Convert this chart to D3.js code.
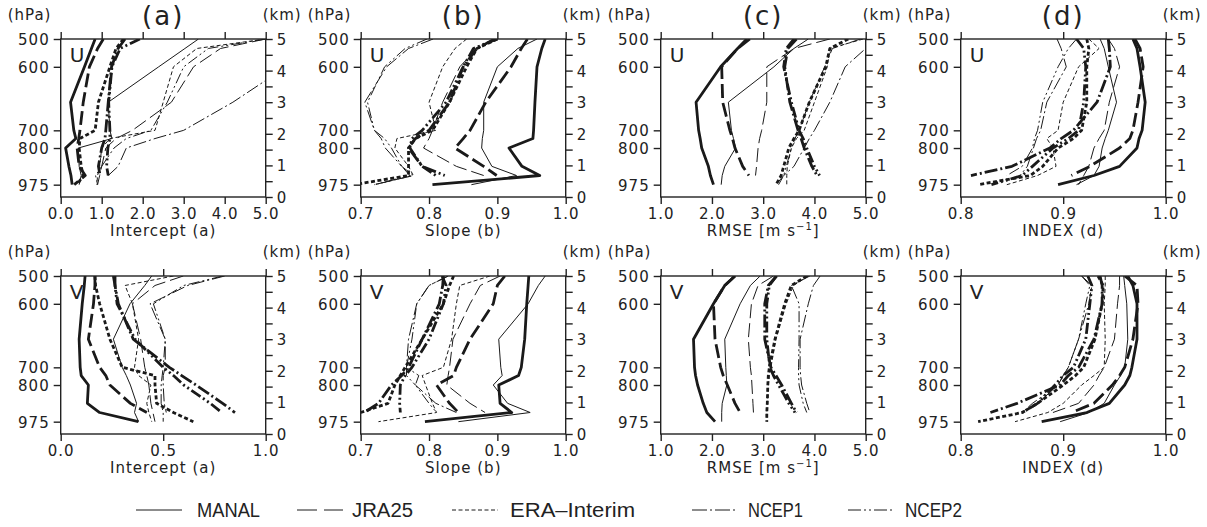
<!DOCTYPE html>
<html>
<head>
<meta charset="utf-8">
<script src="https://cdn.jsdelivr.net/npm/d3@7"></script>
<style>
  body { margin: 0; background: #fff; }
  svg { display: block; }
  .lab { font-family: "DejaVu Sans", sans-serif; font-size: 15px; letter-spacing: 1px; fill: #222; }
  .tick text { font-family: "DejaVu Sans", sans-serif; font-size: 15px; letter-spacing: 1px; fill: #222; }
  .tick line, .domain { stroke: #222; stroke-width: 1.4; }
  .legend text { font-family: "Liberation Sans", sans-serif; font-size: 20px; fill: #222; }
</style>
</head>
<body>
<svg id="chart" width="1207" height="527"></svg>
<script>
"use strict";

// heights (km) of the levels used by every profile, top to bottom
const levelKm = [5.0, 4.7, 4.12, 3.0, 2.11, 1.85, 1.55, 0.97, 0.68, 0.39];
const hpaLabels = [500, 600, 700, 800, 975];
const hpaKm = [5.0, 4.12, 2.11, 1.55, 0.39];
const kmTicks = [0, 0.5, 1, 1.5, 2, 2.5, 3, 3.5, 4, 4.5, 5];

const datasets = ["MANAL", "JRA25", "ERA\u2013Interim", "NCEP1", "NCEP2"];

// each panel: MANAL thick, MANAL thin, JRA25 thick, JRA25 thin, ERA thick, ERA thin,
// NCEP1 thick, NCEP1 thin, NCEP2 thick, NCEP2 thin
const uIntercept = [
  [0.84, 0.75, 0.58, 0.24, 0.32, 0.37, 0.12, 0.20, 0.25, 0.28],
  [3.36, 3.03, 2.39, 1.16, 1.20, 1.25, 0.43, 0.45, 0.50, 0.45],
  [1.04, 0.90, 0.70, 0.55, 0.47, 0.44, 0.40, 0.45, 0.60, 0.33],
  [5.00, 3.90, 3.24, 2.70, 1.75, 1.35, 1.10, 1.00, 0.95, 0.90],
  [1.53, 1.35, 1.20, 0.92, 0.84, 0.47, 0.45, 0.50, 0.55, 0.40],
  [5.00, 3.32, 2.75, 2.50, 2.30, 1.20, 1.00, 0.95, 0.90, 0.88],
  [1.57, 1.40, 1.24, 1.16, 1.10, 1.08, 1.00, 0.92, 0.96, null],
  [6.50, 6.00, 5.50, 4.20, 3.00, 2.30, 1.60, 1.40, 1.16, null],
  [1.93, 1.45, 1.25, 1.17, 1.20, 1.20, 1.15, 1.12, 1.16, null],
  [5.00, 3.60, 3.00, 2.60, 2.20, 1.60, 1.30, 1.00, 0.85, 0.90]
];
const uSlope = [
  [0.970, 0.965, 0.958, 0.955, 0.953, 0.952, 0.917, 0.936, 0.962, 0.805],
  [0.958, 0.930, 0.900, 0.880, 0.880, 0.878, 0.877, 0.892, 0.928, 0.862],
  [0.944, 0.935, 0.920, 0.883, 0.860, 0.850, 0.838, 0.880, 0.899, null],
  [0.900, 0.870, 0.845, 0.820, 0.805, 0.800, 0.792, 0.840, 0.880, null],
  [0.900, 0.870, 0.855, 0.830, 0.805, 0.780, 0.770, 0.770, 0.770, 0.690],
  [0.855, 0.838, 0.820, 0.800, 0.810, 0.753, 0.750, 0.770, 0.777, 0.720],
  [0.896, 0.870, 0.850, 0.830, 0.800, 0.780, 0.770, 0.790, 0.823, null],
  [0.806, 0.770, 0.738, 0.706, 0.720, 0.730, 0.736, 0.760, 0.777, 0.720],
  [0.900, 0.865, 0.850, 0.825, 0.790, 0.775, 0.772, 0.790, 0.810, null],
  [0.797, 0.765, 0.735, 0.710, 0.720, 0.735, 0.745, 0.760, 0.772, 0.720]
];
const uRmse = [
  [2.68, 2.50, 2.17, 1.69, 1.74, 1.77, 1.80, 1.93, 1.97, 2.03],
  [3.88, 3.60, 3.21, 2.32, 2.38, 2.42, 2.46, 2.25, 2.20, 2.18],
  [2.74, 2.50, 2.19, 2.21, 2.35, 2.40, 2.45, 2.60, 2.72, null],
  [4.30, 3.60, 3.07, 3.07, 2.97, 2.93, 2.90, 2.87, 2.85, null],
  [4.66, 4.30, 4.22, 3.90, 3.70, 3.60, 3.50, 3.40, 3.35, 3.25],
  [4.95, 4.30, 4.25, 4.00, 3.80, 3.65, 3.55, 3.47, 3.46, 3.46],
  [3.65, 3.48, 3.42, 3.52, 3.68, 3.74, 3.80, 3.95, 4.05, null],
  [5.30, 5.00, 4.60, 4.30, 4.00, 3.90, 3.80, 3.60, 3.40, 3.25],
  [3.60, 3.45, 3.40, 3.55, 3.70, 3.78, 3.85, 4.00, 4.10, null],
  [4.90, 4.35, 4.20, 3.90, 3.70, 3.62, 3.55, 3.45, 3.40, 3.30]
];
const uIndex = [
  [0.968, 0.972, 0.975, 0.980, 0.977, 0.974, 0.972, 0.955, 0.930, 0.895],
  [0.936, 0.940, 0.944, 0.952, 0.944, 0.941, 0.938, 0.935, 0.930, 0.913],
  [0.970, 0.975, 0.978, 0.973, 0.968, 0.965, 0.955, 0.926, 0.908, null],
  [0.944, 0.950, 0.955, 0.945, 0.940, 0.935, 0.930, 0.925, 0.920, 0.915],
  [0.923, 0.925, 0.923, 0.923, 0.918, 0.910, 0.895, 0.880, 0.868, 0.817],
  [0.925, 0.935, 0.915, 0.900, 0.895, 0.884, 0.890, 0.893, 0.875, 0.845],
  [0.944, 0.945, 0.946, 0.933, 0.910, 0.898, 0.887, 0.850, 0.810, null],
  [0.894, 0.898, 0.903, 0.884, 0.878, 0.874, 0.871, 0.865, 0.858, null],
  [0.913, 0.920, 0.922, 0.920, 0.915, 0.905, 0.890, 0.870, 0.860, 0.830],
  [0.913, 0.905, 0.895, 0.880, 0.875, 0.872, 0.870, 0.860, 0.845, null]
];
const vIntercept = [
  [0.119, 0.115, 0.105, 0.090, 0.095, 0.100, 0.135, 0.130, 0.190, 0.379],
  [0.444, 0.410, 0.338, 0.257, 0.300, 0.320, 0.340, 0.370, 0.360, 0.380],
  [0.167, 0.167, 0.160, 0.135, 0.190, 0.220, 0.240, 0.340, 0.420, null],
  [0.598, 0.460, 0.350, 0.390, 0.410, 0.420, 0.430, 0.440, 0.450, 0.460],
  [0.167, 0.170, 0.190, 0.240, 0.300, 0.460, 0.460, 0.468, 0.550, 0.647],
  [0.550, 0.314, 0.350, 0.380, 0.360, 0.380, 0.440, 0.420, 0.430, 0.444],
  [0.265, 0.265, 0.281, 0.354, 0.530, 0.590, 0.660, 0.790, 0.850, null],
  [0.800, 0.620, 0.436, 0.510, 0.510, 0.500, 0.500, 0.505, 0.515, null],
  [0.257, 0.265, 0.275, 0.363, 0.500, 0.550, 0.600, 0.730, 0.785, null],
  [0.790, 0.600, 0.452, 0.510, 0.500, 0.495, 0.490, 0.490, 0.500, 0.500]
];
const vSlope = [
  [0.946, 0.945, 0.943, 0.940, 0.935, 0.931, 0.902, 0.904, 0.921, 0.794],
  [0.970, 0.960, 0.945, 0.902, 0.905, 0.907, 0.894, 0.915, 0.948, 0.843],
  [0.911, 0.900, 0.894, 0.860, 0.840, 0.836, 0.811, 0.830, 0.843, null],
  [0.904, 0.875, 0.860, 0.835, 0.830, 0.828, 0.826, 0.860, 0.882, null],
  [0.836, 0.830, 0.821, 0.790, 0.765, 0.758, 0.750, 0.740, 0.700, null],
  [0.889, 0.845, 0.840, 0.833, 0.821, 0.790, 0.795, 0.805, 0.811, 0.726],
  [0.821, 0.820, 0.815, 0.790, 0.770, 0.760, 0.745, 0.726, 0.705, null],
  [0.828, 0.800, 0.782, 0.770, 0.767, 0.767, 0.780, 0.810, 0.840, null],
  [0.819, 0.825, 0.821, 0.800, 0.775, 0.765, 0.758, 0.757, 0.758, null],
  [0.828, 0.800, 0.782, 0.775, 0.767, 0.785, 0.780, 0.800, 0.811, null]
];
const vRmse = [
  [2.45, 2.25, 2.03, 1.64, 1.66, 1.68, 1.72, 1.83, 1.90, 2.06],
  [2.94, 2.75, 2.55, 2.25, 2.27, 2.28, 2.29, 2.20, 2.19, 2.19],
  [2.45, 2.25, 2.03, 2.06, 2.17, 2.22, 2.30, 2.45, 2.55, null],
  [3.20, 2.90, 2.77, 2.71, 2.75, 2.77, 2.78, 2.80, 2.81, null],
  [3.85, 3.55, 3.42, 3.23, 3.12, 3.10, 3.09, 3.08, 3.07, 3.07],
  [3.88, 3.59, 3.45, 3.25, 3.15, 3.12, 3.10, 3.08, 3.07, 3.08],
  [3.26, 3.10, 3.03, 3.03, 3.15, 3.25, 3.36, 3.55, 3.65, null],
  [4.11, 3.98, 3.88, 3.72, 3.72, 3.73, 3.75, 3.85, 3.91, null],
  [3.26, 3.12, 3.07, 3.07, 3.13, 3.20, 3.30, 3.50, 3.62, null],
  [3.91, 3.55, 3.70, 3.70, 3.69, 3.69, 3.70, 3.78, 3.85, null]
];
const vIndex = [
  [0.963, 0.968, 0.972, 0.972, 0.967, 0.965, 0.960, 0.945, 0.923, 0.879],
  [0.959, 0.960, 0.962, 0.963, 0.960, 0.956, 0.950, 0.940, 0.925, 0.897],
  [0.960, 0.972, 0.973, 0.968, 0.960, 0.955, 0.948, 0.930, 0.908, null],
  [0.955, 0.955, 0.953, 0.950, 0.940, 0.935, 0.930, 0.915, 0.890, null],
  [0.934, 0.939, 0.938, 0.931, 0.920, 0.912, 0.900, 0.875, 0.860, 0.817],
  [0.941, 0.941, 0.940, 0.941, 0.940, 0.930, 0.918, 0.900, 0.885, 0.853],
  [0.936, 0.938, 0.938, 0.930, 0.915, 0.905, 0.897, 0.855, 0.829, null],
  [0.918, 0.928, 0.925, 0.915, 0.905, 0.900, 0.895, 0.875, 0.861, null],
  [0.924, 0.928, 0.926, 0.922, 0.910, 0.900, 0.892, 0.875, 0.860, null],
  [0.918, 0.926, 0.922, 0.915, 0.905, 0.900, 0.895, 0.870, 0.860, null]
];

const dashes = [null, "14,5", "4,2.5", "13,3,2,3", "11,3,2,3,2,3"];
const legendDashes = [null, "20,7", "4,2.5", "15,3,2,3", "13,3,2,3,2,3"];

const panels = [
  {data: uIntercept, dom: [0, 5], ticks: [0, 1, 2, 3, 4, 5], title: "Intercept (a)", tag: "(a)", comp: "U"},
  {data: uSlope, dom: [0.7, 1], ticks: [0.7, 0.8, 0.9, 1], title: "Slope (b)", tag: "(b)", comp: "U"},
  {data: uRmse, dom: [1, 5], ticks: [1, 2, 3, 4, 5], title: "RMSE", tag: "(c)", comp: "U"},
  {data: uIndex, dom: [0.8, 1], ticks: [0.8, 0.9, 1], title: "INDEX (d)", tag: "(d)", comp: "U"},
  {data: vIntercept, dom: [0, 1], ticks: [0, 0.5, 1], title: "Intercept (a)", comp: "V"},
  {data: vSlope, dom: [0.7, 1], ticks: [0.7, 0.8, 0.9, 1], title: "Slope (b)", comp: "V"},
  {data: vRmse, dom: [1, 5], ticks: [1, 2, 3, 4, 5], title: "RMSE", comp: "V"},
  {data: vIndex, dom: [0.8, 1], ticks: [0.8, 0.9, 1], title: "INDEX (d)", comp: "V"}
];

const svg = d3.select("#chart");
svg.append("rect").attr("width", 1207).attr("height", 527).attr("fill", "#fff");

const pw = 205, ph = 158;

panels.forEach((p, k) => {
  let col = k % 4, row = Math.floor(k / 4),
    left = 60.7 + 300 * col,
    top = 39 + 237 * row;

  let x = d3.scaleLinear().domain(p.dom).range([0, pw]),
    y = d3.scaleLinear().domain([0, 5]).range([ph, 0]);

  let g = svg.append("g").attr("transform", "translate(" + left + "," + top + ")");

  g.append("clipPath").attr("id", "clip" + k)
    .append("rect").attr("width", pw).attr("height", ph);

  // profiles
  let line = d3.line()
    .defined(d => d != null)
    .x(d => x(d))
    .y((d, i) => y(levelKm[i]));

  let lines = g.append("g").attr("clip-path", "url(#clip" + k + ")");
  p.data.forEach((vals, s) => {
    let thick = s % 2 == 0;
    lines.append("path")
      .attr("d", line(vals))
      .attr("fill", "none")
      .attr("stroke", "#1a1a1a")
      .attr("stroke-width", thick ? 2.8 : 1)
      .attr("stroke-linejoin", "round")
      .attr("stroke-dasharray", dashes[Math.floor(s / 2)]);
  });

  // frame
  g.append("rect").attr("width", pw).attr("height", ph)
    .attr("fill", "none").attr("stroke", "#222").attr("stroke-width", 1.4);

  g.append("g")
    .call(d3.axisTop(x).tickValues(p.ticks).tickFormat("").tickSize(7).tickSizeOuter(0));

  g.append("g").attr("transform", "translate(0," + ph + ")")
    .call(d3.axisBottom(x).tickValues(p.ticks).tickFormat(d3.format(".1f")).tickSize(7).tickSizeOuter(0).tickPadding(4));

  let yl = g.append("g")
    .call(d3.axisLeft(y).tickValues(hpaKm).tickFormat((d, i) => hpaLabels[i]).tickSize(7).tickSizeOuter(0).tickPadding(4));

  let yr = g.append("g").attr("transform", "translate(" + pw + ",0)")
    .call(d3.axisRight(y).tickValues(kmTicks).tickFormat(d => Number.isInteger(d) ? d : "").tickSize(7).tickSizeOuter(0).tickPadding(4));

  yl.selectAll(".tick text").attr("dy", "0.36em");
  yr.selectAll(".tick text").attr("dy", "0.36em");
  g.selectAll(".domain").remove();

  // labels
  g.append("text").attr("class", "lab").attr("x", -53).attr("y", -19).text("(hPa)");
  g.append("text").attr("class", "lab").attr("x", pw - 3).attr("y", -19).text("(km)");
  g.append("text").attr("class", "lab").attr("x", 9).attr("y", 23)
    .style("font-size", "20px").text(p.comp);

  let t = g.append("text").attr("class", "lab")
    .attr("x", pw / 2).attr("y", ph + 39).attr("text-anchor", "middle").text(p.title);
  if (p.title == "RMSE") {
    t.append("tspan").text(" [m s");
    t.append("tspan").attr("dy", -6).style("font-size", "10px").text("\u22121");
    t.append("tspan").attr("dy", 6).text("]");
  }

  if (p.tag) {
    g.append("text").attr("class", "lab")
      .attr("x", pw / 2).attr("y", -14).attr("text-anchor", "middle")
      .style("font-size", "26px").style("letter-spacing", "2px").text(p.tag);
  }
});

// legend
let legendLine = [136, 297, 452, 692, 848],
  legendText = [197, 352, 510, 748, 905],
  legendLen = [63, 61, 125, 55, 57];

let lg = svg.append("g").attr("class", "legend");
datasets.forEach((name, i) => {
  lg.append("line")
    .attr("x1", legendLine[i]).attr("x2", legendLine[i] + 46)
    .attr("y1", 510).attr("y2", 510)
    .attr("stroke", "#1a1a1a").attr("stroke-width", 1)
    .attr("stroke-dasharray", legendDashes[i]);
  lg.append("text")
    .attr("x", legendText[i]).attr("y", 517)
    .attr("textLength", legendLen[i]).attr("lengthAdjust", "spacingAndGlyphs")
    .text(name);
});
</script>
</body>
</html>
